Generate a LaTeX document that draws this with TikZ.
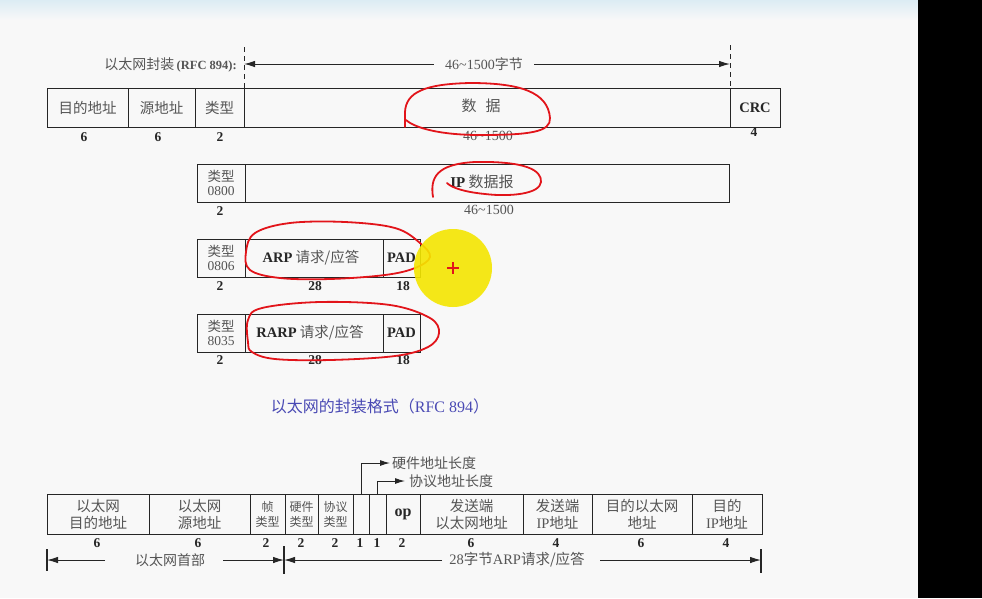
\documentclass[tikz,border=0pt]{standalone}
\usepackage{fontspec}
\setmainfont{Liberation Serif}
\newfontfamily\cjk{Noto Sans CJK SC}
\usetikzlibrary{arrows.meta}
\definecolor{bg}{HTML}{F8F8F8}
\definecolor{ink}{HTML}{262626}
\definecolor{txt}{HTML}{555555}
\definecolor{captxt}{HTML}{4A4AB4}
\definecolor{pen}{HTML}{E2141A}
\definecolor{hl}{HTML}{F4E600}
\definecolor{topbar}{HTML}{DCECF4}
\begin{document}
\begin{tikzpicture}[x=1pt,y=-1pt,
  fld/.style={draw=ink, line width=0.9pt, inner sep=0pt, outer sep=0pt, anchor=north west,
    align=center, text=txt, font=\cjk\fontsize{14.5}{17}\selectfont},
  tfld/.style={fld, font=\cjk\fontsize{13.5}{15.5}\selectfont},
  sfld/.style={fld, font=\cjk\fontsize{12}{15}\selectfont},
  bfld/.style={fld, font=\rmfamily\bfseries\fontsize{14.5}{16}\selectfont, text=ink},
  num/.style={inner sep=0pt, text=ink, font=\bfseries\fontsize{13.5}{14}\selectfont},
  numl/.style={inner sep=0pt, text=txt, font=\fontsize{14}{15}\selectfont},
  lbl/.style={inner sep=0pt, text=txt, font=\cjk\fontsize{14}{16}\selectfont},
  arr/.style={ink, line width=1pt, -{Latex[length=11pt,width=6.5pt]}},
  sarr/.style={ink, line width=1pt, -{Latex[length=10pt,width=6pt]}},
  dsh/.style={ink, line width=1pt, dash pattern=on 5pt off 4pt},
  tick/.style={ink, line width=1.1pt},
  ring/.style={pen, line width=1.8pt, line join=round, line cap=round}
]
\useasboundingbox (0,0) rectangle (982,598);
\fill[bg] (0,0) rectangle (918,598);
\shade[top color=topbar, bottom color=bg] (0,0) rectangle (918,20);
\fill[black] (918,0) rectangle (982,598);

% ---------- header ----------
\node[lbl, anchor=east] (hdr) at (237,65) {以太网封装\,{\rmfamily\bfseries\fontsize{12.5}{14}\selectfont (RFC 894):}};
\coordinate (dl0) at (244,47);
\coordinate (dr0) at (730,45);

% ---------- row 1 ----------
\node[fld, minimum width=81pt, minimum height=39pt] (r1a) at (47,88) {目的地址};
\node[fld, minimum width=67pt, minimum height=39pt] (r1b) at (128,88) {源地址};
\node[fld, minimum width=49pt, minimum height=39pt] (r1c) at (195,88) {类型};
\node[fld, minimum width=486pt, minimum height=39pt] (r1d) at (244,88) {};
\node[bfld, minimum width=50pt, minimum height=39pt] (r1e) at (730,88) {CRC};
\node[lbl, font=\cjk\fontsize{15}{17}\selectfont] (r1t) at (481,106) {数\hspace{0.6em}据};

\draw[dsh] (dl0) -- (r1d.north west);
\draw[dsh] (dr0) -- (r1e.north west);
\coordinate (al) at (244,64);
\coordinate (ar) at (730,64);
\draw[arr, {Latex[length=11pt,width=6.5pt]}-{Latex[length=11pt,width=6.5pt]}] (al) -- (ar)
  node[midway, fill=bg, inner xsep=11pt, inner ysep=1pt, text=txt, xshift=-3pt] (span) {\fontsize{14}{16}\selectfont 46\textasciitilde1500{\cjk 字节}};

\node[num] (n1a) at (84,137) {6};
\node[num] (n1b) at (158,137) {6};
\node[num] (n1c) at (220,137) {2};
\node[numl] (n1d) at (488,136) {46\textasciitilde1500};
\node[num] (n1e) at (754,132) {4};

% ---------- row 2 ----------
\node[tfld, minimum width=48pt, minimum height=38pt] (r2a) at (197,164) {类型\\[-1pt]{\rmfamily 0800}};
\node[fld, minimum width=484pt, minimum height=38pt] (r2b) at (245,164) {};
\node[lbl, font=\cjk\fontsize{15}{17}\selectfont] (r2t) at (482,182) {{\rmfamily\bfseries\color{ink}IP} 数据报};
\node[num] (n2a) at (220,211) {2};
\node[numl] (n2b) at (489,210) {46\textasciitilde1500};

% ---------- row 3 ----------
\node[tfld, minimum width=48pt, minimum height=38pt] (r3a) at (197,239) {类型\\[-1pt]{\rmfamily 0806}};
\node[fld, minimum width=138pt, minimum height=38pt] (r3b) at (245,239) {{\rmfamily\bfseries\color{ink}ARP} 请求/应答\hspace{6pt}};
\node[bfld, minimum width=37pt, minimum height=38pt] (r3c) at (383,239) {PAD};
\node[num] (n3a) at (220,286) {2};
\node[num] (n3b) at (315,286) {28};
\node[num] (n3c) at (403,286) {18};

% ---------- row 4 ----------
\node[tfld, minimum width=48pt, minimum height=38pt] (r4a) at (197,314) {类型\\[-1pt]{\rmfamily 8035}};
\node[fld, minimum width=138pt, minimum height=38pt] (r4b) at (245,314) {{\rmfamily\bfseries\color{ink}RARP} 请求/应答\hspace{8pt}};
\node[bfld, minimum width=37pt, minimum height=38pt] (r4c) at (383,314) {PAD};
\node[num] (n4a) at (220,360) {2};
\node[num] (n4b) at (315,360) {28};
\node[num] (n4c) at (403,360) {18};

% ---------- caption ----------
\node[inner sep=0pt, text=captxt, font=\cjk\fontsize{16}{18}\selectfont] (cap) at (380,406) {以太网的封装格式（{\rmfamily RFC 894}）};

% ---------- bottom ARP frame ----------
\node[fld, minimum width=102pt, minimum height=40pt] (b1) at (47,494) {以太网\\目的地址};
\node[fld, minimum width=101pt, minimum height=40pt] (b2) at (149,494) {以太网\\源地址};
\node[sfld, minimum width=35pt, minimum height=40pt] (b3) at (250,494) {帧\\类型};
\node[sfld, minimum width=33pt, minimum height=40pt] (b4) at (285,494) {硬件\\类型};
\node[sfld, minimum width=35pt, minimum height=40pt] (b5) at (318,494) {协议\\类型};
\node[sfld, minimum width=16pt, minimum height=40pt] (b6) at (353,494) {};
\node[sfld, minimum width=17pt, minimum height=40pt] (b7) at (369,494) {};
\node[bfld, minimum width=34pt, minimum height=40pt, font=\rmfamily\bfseries\fontsize{16}{17}\selectfont] (b8) at (386,494) {op};
\node[fld, minimum width=103pt, minimum height=40pt] (b9) at (420,494) {发送端\\以太网地址};
\node[fld, minimum width=69pt, minimum height=40pt] (b10) at (523,494) {发送端\\{\rmfamily IP}地址};
\node[fld, minimum width=100pt, minimum height=40pt] (b11) at (592,494) {目的以太网\\地址};
\node[fld, minimum width=70pt, minimum height=40pt] (b12) at (692,494) {目的\\{\rmfamily IP}地址};

\node[num] (m1) at (97,543) {6};
\node[num] (m2) at (198,543) {6};
\node[num] (m3) at (266,543) {2};
\node[num] (m4) at (301,543) {2};
\node[num] (m5) at (335,543) {2};
\node[num] (m6) at (360,543) {1};
\node[num] (m7) at (377,543) {1};
\node[num] (m8) at (402,543) {2};
\node[num] (m9) at (471,543) {6};
\node[num] (m10) at (556,543) {4};
\node[num] (m11) at (641,543) {6};
\node[num] (m12) at (726,543) {4};

% callouts
\node[lbl, anchor=west] (hwl) at (392,463) {硬件地址长度};
\node[lbl, anchor=west] (prl) at (409,481) {协议地址长度};
\draw[sarr] (b6.north) |- ([xshift=-2pt]hwl.west);
\draw[sarr] (b7.north) |- ([xshift=-4pt]prl.west);

% bottom span arrows
\node[lbl] (ehdr) at (170,560) {以太网首部};
\node[lbl, font=\cjk\fontsize{14.5}{16}\selectfont] (arpsp) at (517,560) {{\rmfamily 28}字节{\rmfamily ARP}请求/应答};
\coordinate (tl) at (47,560);
\coordinate (tm) at (284,560);
\coordinate (tr) at (761,560);
\coordinate (h1) at (105,560);
\coordinate (h2) at (223,560);
\coordinate (h3) at (442,560);
\coordinate (h4) at (600,560);
\draw[tick] (47,549) -- (47,571);
\draw[tick] (284,546) -- (284,574);
\draw[tick] (761,549) -- (761,573);
\draw[arr] (h1) -- (tl);
\draw[arr] (h2) -- (tm);
\draw[arr] (h3) -- (tm);
\draw[arr] (h4) -- (tr);

% ---------- hand annotations ----------
\draw[ring] (405,127) -- (405,112) .. controls (406,92) and (425,84) .. (470,83)
  .. controls (520,83) and (548,92) .. (550,118)
  .. controls (551,132) and (530,135) .. (480,135)
  .. controls (440,135) and (415,128) .. (406,120);
\draw[ring] (433,197) .. controls (430,178) and (436,164) .. (475,162)
  .. controls (525,161) and (542,170) .. (541,182)
  .. controls (540,194) and (510,197) .. (485,194)
  .. controls (465,192) and (452,188) .. (447,183);
\draw[ring] plot[smooth cycle, tension=0.6] coordinates {(250,270) (246,252) (255,233) (290,223) (345,222) (395,228) (420,243) (430,257) (415,268) (385,275) (330,279) (280,278)};
\draw[ring] plot[smooth cycle, tension=0.6] coordinates {(248,342) (248,320) (262,308) (320,302) (390,305) (430,318) (439,333) (428,347) (395,356) (330,360) (275,359) (252,352)};
\fill[hl, opacity=0.9] (453,268) circle [radius=39];
\draw[pen, line width=1.6pt] (447,268) -- (459,268) (453,262) -- (453,274);
\end{tikzpicture}
\end{document}
